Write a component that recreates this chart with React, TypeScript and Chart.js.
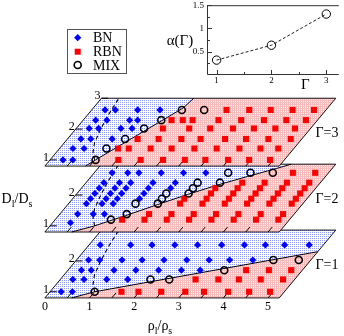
import React, { useEffect, useRef } from "react";
import { Chart, registerables } from "chart.js";

Chart.register(...registerables);

type Pt = [number, number];

// ---------- axes / categories ----------
const D_MIN = 0.8;
const D_MAX = 3.0;
const RHO_MAX = 5.25;
const GAMMAS = [1, 2, 3];
const RHO_TICKS = [0, 1, 2, 3, 4, 5];
const RHO_MINOR = [0.5, 1.5, 2.5, 3.5, 4.5];
const D_TICKS = [[1, 2], [1, 2], [1, 2, 3]];
const LEGEND_LABELS = ["BN", "RBN", "MIX"];

// ---------- Γ = 1 ----------
const BN_G1: Pt[] = [
  [0.25, 1], [0.5, 1],
  [0.28, 1.4], [0.53, 1.4], [1.04, 1.4], [1.51, 1.4],
  [0.3, 1.7], [0.52, 1.7], [1.03, 1.7], [1.52, 1.7], [2.03, 1.7], [2.54, 1.7], [2.96, 1.7],
  [0.27, 2.03], [0.52, 2.03], [1.02, 2.03], [1.47, 2.03], [1.96, 2.03], [2.47, 2.03], [2.97, 2.03], [3.43, 2.03], [3.95, 2.03],
  [0.25, 2.52], [0.93, 2.52], [1.41, 2.52], [1.92, 2.52], [2.43, 2.52], [2.97, 2.52], [3.48, 2.52], [3.95, 2.52], [4.38, 2.52], [4.93, 2.52],
];
const MIX_G1: Pt[] = [[1, 1], [2.02, 1.4], [2.44, 1.4], [3.5, 1.7], [4.41, 2.03], [4.98, 2.03]];
const RBN_G1: Pt[] = [
  [1.6, 1], [1.98, 1], [2.49, 1], [3.03, 1], [3.45, 1], [3.99, 1], [4.46, 1], [4.93, 1],
  [3.03, 1.4], [3.54, 1.4], [4.0, 1.4], [4.49, 1.4], [4.99, 1.4],
  [3.99, 1.7], [4.5, 1.7], [5.0, 1.7],
];
const BOUNDARY_G1: Pt[] = [[0.6, 0.8], [1, 1], [5.25, 2.3]];

// ---------- Γ = 2 ----------
const BN_G2: Pt[] = [
  [0.4, 1.1], [0.4, 1.38], [0.4, 1.72], [0.4, 1.88], [0.4, 2.05], [0.4, 2.22], [0.4, 2.4], [0.4, 2.72],
  [0.75, 1.38], [0.75, 1.72], [0.75, 1.88], [0.75, 2.05], [0.75, 2.22], [0.75, 2.4], [0.75, 2.72],
  [1, 1.38], [1, 1.72], [1, 1.88], [1, 2.05], [1, 2.22], [1, 2.4], [1, 2.72],
  [1.5, 1.88], [1.5, 2.05], [1.5, 2.22], [1.5, 2.4], [1.5, 2.72],
  [2, 2.22], [2, 2.4], [2, 2.72],
  [2.5, 2.72],
];
const MIX_G2: Pt[] = [
  [1.25, 1.2], [1.5, 1.38], [1.5, 1.72],
  [2, 1.72], [2, 1.88], [2, 2.05],
  [2.5, 2.05], [2.5, 2.22], [2.5, 2.4],
  [3, 2.4], [3, 2.72], [3.5, 2.72], [4, 2.72],
];
const RBN_G2: Pt[] = [
  [1.5, 1.2],
  [2, 1.2], [2, 1.38],
  [2.5, 1.2], [2.5, 1.38], [2.5, 1.72], [2.5, 1.88],
  [3, 1.2], [3, 1.38], [3, 1.72], [3, 1.88], [3, 2.05], [3, 2.22],
  [3.5, 1.2], [3.5, 1.38], [3.5, 1.72], [3.5, 1.88], [3.5, 2.05], [3.5, 2.22], [3.5, 2.4],
  [4, 1.2], [4, 1.38], [4, 1.72], [4, 1.88], [4, 2.05], [4, 2.22], [4, 2.4],
  [4.5, 1.2], [4.5, 1.38], [4.5, 1.72], [4.5, 1.88], [4.5, 2.05], [4.5, 2.22], [4.5, 2.4], [4.45, 2.72],
  [5, 1.2], [5, 1.38], [5, 1.72], [5, 1.88], [5, 2.05], [5, 2.22], [5, 2.4], [4.95, 2.72],
];
const BOUNDARY_G2: Pt[] = [
  [0.6, 0.8], [1, 1], [1.5, 1.33], [2, 1.68], [2.5, 2.02], [3, 2.33], [3.5, 2.6], [4, 2.86], [4.25, 3.0],
];

// ---------- Γ = 3 ----------
const BN_G3: Pt[] = [
  [0.29, 1], [0.51, 1],
  [0.3, 1.37], [0.55, 1.37],
  [0.3, 1.68], [0.52, 1.68], [1.0, 1.68],
  [0.29, 2.02], [0.5, 2.02], [1.0, 2.02], [1.25, 2.02],
  [0.28, 2.29], [0.53, 2.29], [1.04, 2.29], [1.22, 2.29],
  [0.3, 2.62], [0.53, 2.62], [1.03, 2.62], [1.53, 2.62],
];
const MIX_G3: Pt[] = [[1.02, 1], [1.05, 1.37], [1.29, 1.68], [1.52, 2.02], [1.75, 2.29], [2.02, 2.62], [2.52, 2.62]];
const RBN_G3: Pt[] = [
  [1.53, 1], [2.03, 1], [2.53, 1], [3.02, 1], [3.48, 1], [3.99, 1], [4.46, 1], [4.93, 1],
  [1.31, 1.37], [1.55, 1.37], [2.04, 1.37], [2.51, 1.37], [3.02, 1.37], [3.52, 1.37], [4.03, 1.37], [4.5, 1.37], [4.9, 1.37],
  [1.57, 1.68], [2.04, 1.68], [2.55, 1.68], [2.98, 1.68], [3.53, 1.68], [4.0, 1.68], [4.5, 1.68], [5.0, 1.68],
  [1.94, 2.02], [2.53, 2.02], [3.0, 2.02], [3.51, 2.02], [3.98, 2.02], [4.46, 2.02], [4.9, 2.02],
  [1.98, 2.29], [2.23, 2.29], [2.45, 2.29], [3.03, 2.29], [3.54, 2.29], [4.05, 2.29], [4.55, 2.29], [4.99, 2.29],
  [3.02, 2.62], [3.53, 2.62], [4.01, 2.62], [4.5, 2.62], [4.98, 2.62],
];
const BOUNDARY_G3: Pt[] = [[0.91, 0.8], [1.02, 1], [2.01, 2.68], [2.07, 3.0]];

const DASH_LINE: Pt[] = [[1, 1], [0.82, 1.25], [0.68, 1.55], [0.56, 2], [0.46, 2.5], [0.39, 3]];

const BN = [BN_G1, BN_G2, BN_G3];
const RBN = [RBN_G1, RBN_G2, RBN_G3];
const MIX = [MIX_G1, MIX_G2, MIX_G3];
const BOUNDARY = [BOUNDARY_G1, BOUNDARY_G2, BOUNDARY_G3];

// ---------- inset ----------
const INSET_GAMMA = [1, 2, 3];
const INSET_ALPHA = [0.32, 0.64, 1.31];
const INSET_X_TICKS = [1, 2, 3];
const INSET_X_MINOR = [1.5, 2.5];
const INSET_Y_TICKS = [0.5, 1, 1.5];
const INSET_Y_MINOR = [0.25, 0.75, 1.25];

// ---------- oblique projection of (rho, D, Gamma) onto the chart's x/y ----------
const SHEAR = 0.576;
const PLANE_GAP = 2.138;
const X_MIN = -0.8913;
const X_MAX = 6.587;
const Y_MIN = -1.0692;
const Y_MAX = 9.4969;
const FONT = '"Liberation Serif", "Times New Roman", serif';

const proj = (r: number, d: number, g: number) => ({
  x: r + SHEAR * (d - D_MIN),
  y: (g - 1) * PLANE_GAP + (d - D_MIN),
});

function makePattern(cells: string[][]) {
  const c = document.createElement("canvas");
  c.height = cells.length;
  c.width = cells[0].length;
  const cx = c.getContext("2d")!;
  cells.forEach((row, y) =>
    row.forEach((col, x) => {
      cx.fillStyle = col;
      cx.fillRect(x, y, 1, 1);
    })
  );
  return cx.createPattern(c, "repeat");
}

function buildDatasets(bluePat: any, pinkPat: any) {
  const seq: any[] = [];
  const clear = "rgba(0,0,0,0)";
  GAMMAS.forEach((g, gi) => {
    const P = (r: number, d: number) => proj(r, d, g);
    const poly = [P(0, D_MIN), P(RHO_MAX, D_MIN), P(RHO_MAX, D_MAX), P(0, D_MAX), P(0, D_MIN)];
    const lineBase = { type: "line", pointRadius: 0, pointHoverRadius: 0, tension: 0, spanGaps: false };
    seq.push({ ...lineBase, data: poly, fill: "shape", backgroundColor: bluePat, borderColor: clear, borderWidth: 0 });
    const b = BOUNDARY[gi];
    const pinkPts = b.map((p) => P(p[0], p[1]));
    if (b[b.length - 1][1] >= D_MAX - 1e-6) pinkPts.push(P(RHO_MAX, D_MAX));
    pinkPts.push(P(RHO_MAX, D_MIN));
    pinkPts.push(P(b[0][0], b[0][1]));
    seq.push({ ...lineBase, data: pinkPts, fill: "shape", backgroundColor: pinkPat, borderColor: clear, borderWidth: 0 });
    seq.push({ ...lineBase, data: poly, fill: false, borderColor: "#111", borderWidth: 1 });
    seq.push({ ...lineBase, data: b.map((p) => P(p[0], p[1])), fill: false, borderColor: "#000", borderWidth: 1 });
    seq.push({
      ...lineBase, data: DASH_LINE.map((p) => P(p[0], p[1])), fill: false,
      borderColor: "#000", borderWidth: 1.1, borderDash: [4, 3],
    });
    const ticks: any[] = [];
    const seg = (a: any, c: any) => ticks.push(a, c, { x: a.x, y: null });
    [...RHO_TICKS.filter((r) => r > 0), ...RHO_MINOR].forEach((r) => seg(P(r, D_MIN), P(r, D_MIN + 0.16)));
    D_TICKS[gi].forEach((d) => {
      const a = P(0, d);
      seg(a, { x: a.x + 0.15, y: a.y });
    });
    seq.push({ ...lineBase, data: ticks, fill: false, borderColor: "#000", borderWidth: 1 });
    const ptBase = { type: "scatter", showLine: false, pointHoverRadius: 0 };
    seq.push({
      ...ptBase, data: BN[gi].map((p) => P(p[0], p[1])), pointStyle: "rectRot", pointRadius: 3.6,
      pointBackgroundColor: "#0000ff", pointBorderColor: "#0000ff", pointBorderWidth: 0,
    });
    seq.push({
      ...ptBase, data: RBN[gi].map((p) => P(p[0], p[1])), pointStyle: "rect", pointRadius: 4.3,
      pointBackgroundColor: "#ff0000", pointBorderColor: "#ff0000", pointBorderWidth: 0,
    });
    seq.push({
      ...ptBase, data: MIX[gi].map((p) => P(p[0], p[1])), pointStyle: "circle", pointRadius: 3.5,
      pointBackgroundColor: clear, pointBorderColor: "#000", pointBorderWidth: 1.6,
    });
  });
  return seq.map((ds, i) => ({ ...ds, order: seq.length - i }));
}

function drawRich(ctx: CanvasRenderingContext2D, parts: Array<[string, boolean]>, cx: number, baseY: number, size: number) {
  const sub = Math.round(size * 0.72);
  let w = 0;
  parts.forEach(([t, s]) => {
    ctx.font = `${s ? sub : size}px ${FONT}`;
    w += ctx.measureText(t).width;
  });
  let x = cx - w / 2;
  ctx.textAlign = "left";
  ctx.textBaseline = "alphabetic";
  parts.forEach(([t, s]) => {
    ctx.font = `${s ? sub : size}px ${FONT}`;
    ctx.fillText(t, x, s ? baseY + size * 0.25 : baseY);
    x += ctx.measureText(t).width;
  });
}

const mainText = {
  id: "mainText",
  afterDraw(chart: any) {
    const ctx: CanvasRenderingContext2D = chart.ctx;
    const sx = chart.scales.x;
    const sy = chart.scales.y;
    const px = (p: { x: number; y: number }) => [sx.getPixelForValue(p.x), sy.getPixelForValue(p.y)];
    ctx.save();
    ctx.fillStyle = "#000";
    ctx.font = `12px ${FONT}`;
    ctx.textAlign = "center";
    ctx.textBaseline = "middle";
    RHO_TICKS.forEach((r) => {
      const [x, y] = px(proj(r, D_MIN, 1));
      ctx.fillText(String(r), x, y + 9);
    });
    GAMMAS.forEach((g, gi) => {
      ctx.font = `12px ${FONT}`;
      ctx.textAlign = "right";
      ctx.textBaseline = "middle";
      D_TICKS[gi].forEach((d) => {
        const [x, y] = px(proj(0, d, g));
        ctx.fillText(String(d), x - 1, y - 2);
      });
      ctx.font = `14px ${FONT}`;
      ctx.textAlign = "left";
      const [x, y] = px(proj(RHO_MAX, 1.9, g));
      ctx.fillText("Γ=" + g, x + 8, y + 1);
    });
    ctx.fillStyle = "#000";
    drawRich(ctx, [["D", false], ["l", true], ["/", false], ["D", false], ["s", true]], 17, 203, 14);
    drawRich(ctx, [["ρ", false], ["l", true], ["/", false], ["ρ", false], ["s", true]], 160, 330, 14);

    // legend
    ctx.strokeStyle = "#555";
    ctx.lineWidth = 1;
    ctx.strokeRect(67.5, 29.5, 59, 44);
    const ys = [37.7, 51.7, 65];
    const mx = 77.7;
    ctx.fillStyle = "#0000ff";
    ctx.beginPath();
    ctx.moveTo(mx - 3.6, ys[0]); ctx.lineTo(mx, ys[0] - 3.6); ctx.lineTo(mx + 3.6, ys[0]); ctx.lineTo(mx, ys[0] + 3.6);
    ctx.closePath();
    ctx.fill();
    ctx.fillStyle = "#ff0000";
    ctx.fillRect(mx - 3, ys[1] - 3, 6, 6);
    ctx.strokeStyle = "#000";
    ctx.lineWidth = 1.6;
    ctx.beginPath();
    ctx.arc(mx, ys[2], 3.5, 0, Math.PI * 2);
    ctx.stroke();
    ctx.fillStyle = "#000";
    ctx.font = `14px ${FONT}`;
    ctx.textAlign = "left";
    ctx.textBaseline = "middle";
    LEGEND_LABELS.forEach((t, i) => ctx.fillText(t, 93, ys[i] + 1));
    ctx.restore();
  },
};

const insetAxes = {
  id: "insetAxes",
  afterDraw(chart: any) {
    const ctx: CanvasRenderingContext2D = chart.ctx;
    const a = chart.chartArea;
    const sx = chart.scales.x;
    const sy = chart.scales.y;
    ctx.save();
    ctx.strokeStyle = "#333";
    ctx.lineWidth = 1;
    ctx.beginPath();
    ctx.moveTo(a.right, a.top + 0.5);
    ctx.lineTo(a.left + 0.5, a.top + 0.5);
    ctx.lineTo(a.left + 0.5, a.bottom - 0.5);
    ctx.lineTo(a.right, a.bottom - 0.5);
    const xt = (v: number, len: number) => {
      const x = Math.round(sx.getPixelForValue(v)) + 0.5;
      ctx.moveTo(x, a.bottom); ctx.lineTo(x, a.bottom - len);
    };
    const yt = (v: number, len: number) => {
      const y = Math.round(sy.getPixelForValue(v)) + 0.5;
      ctx.moveTo(a.left, y); ctx.lineTo(a.left + len, y);
    };
    INSET_X_TICKS.forEach((v) => xt(v, 5));
    INSET_X_MINOR.forEach((v) => xt(v, 3));
    INSET_Y_TICKS.forEach((v) => yt(v, 5));
    INSET_Y_MINOR.forEach((v) => yt(v, 3));
    ctx.stroke();
    ctx.fillStyle = "#000";
    ctx.font = `9px ${FONT}`;
    ctx.textAlign = "center";
    ctx.textBaseline = "middle";
    INSET_X_TICKS.forEach((v) => ctx.fillText(String(v), sx.getPixelForValue(v), a.bottom + 6));
    ctx.textAlign = "right";
    INSET_Y_TICKS.forEach((v) => ctx.fillText(String(v), a.left - 3, sy.getPixelForValue(v)));
    ctx.font = `15px ${FONT}`;
    ctx.textAlign = "center";
    ctx.textBaseline = "alphabetic";
    ctx.fillText("α(Γ)", 30, 45);
    ctx.fillText("Γ", sx.getPixelForValue(2.62), a.bottom + 14);
    ctx.restore();
  },
};

export default function App() {
  const mainRef = useRef<HTMLCanvasElement>(null);
  const insetRef = useRef<HTMLCanvasElement>(null);

  useEffect(() => {
    document.body.style.margin = "0";
    const W = "#ffffff";
    const blue = makePattern([
      ["#8f9aff", W],
      [W, W],
    ]);
    const pink = makePattern([
      ["#f9bcbc", "#f9bcbc"],
      ["#f9bcbc", W],
    ]);
    const main = new Chart(mainRef.current!, {
      type: "scatter",
      data: { datasets: buildDatasets(blue, pink) as any },
      options: {
        responsive: false,
        animation: false,
        events: [],
        layout: { padding: 0 },
        scales: {
          x: { type: "linear", min: X_MIN, max: X_MAX, display: false },
          y: { type: "linear", min: Y_MIN, max: Y_MAX, display: false },
        },
        plugins: { legend: { display: false }, tooltip: { enabled: false } },
      } as any,
      plugins: [mainText as any],
    });
    const inset = new Chart(insetRef.current!, {
      type: "scatter",
      data: {
        datasets: [
          {
            data: INSET_GAMMA.map((g, i) => ({ x: g, y: INSET_ALPHA[i] })),
            showLine: true,
            borderColor: "#222",
            borderWidth: 1,
            borderDash: [3, 2],
            pointStyle: "circle",
            pointRadius: 4.2,
            pointHoverRadius: 0,
            pointBorderColor: "#000",
            pointBorderWidth: 1,
            pointBackgroundColor: "rgba(0,0,0,0)",
          } as any,
        ],
      },
      options: {
        responsive: false,
        animation: false,
        events: [],
        layout: { padding: { left: 57, top: 5, right: 0, bottom: 20 } },
        scales: {
          x: { type: "linear", min: 0.825, max: 3.228, display: false },
          y: { type: "linear", min: 0, max: 1.5, display: false },
        },
        plugins: { legend: { display: false }, tooltip: { enabled: false } },
      } as any,
      plugins: [insetAxes as any],
    });
    return () => {
      main.destroy();
      inset.destroy();
    };
  }, []);

  return (
    <div style={{ position: "relative", width: 344, height: 336, background: "#fff" }}>
      <canvas ref={mainRef} width={344} height={336} style={{ position: "absolute", left: 0, top: 0, width: 344, height: 336 }} />
      <canvas ref={insetRef} width={194} height={95} style={{ position: "absolute", left: 150, top: 0, width: 194, height: 95 }} />
    </div>
  );
}
